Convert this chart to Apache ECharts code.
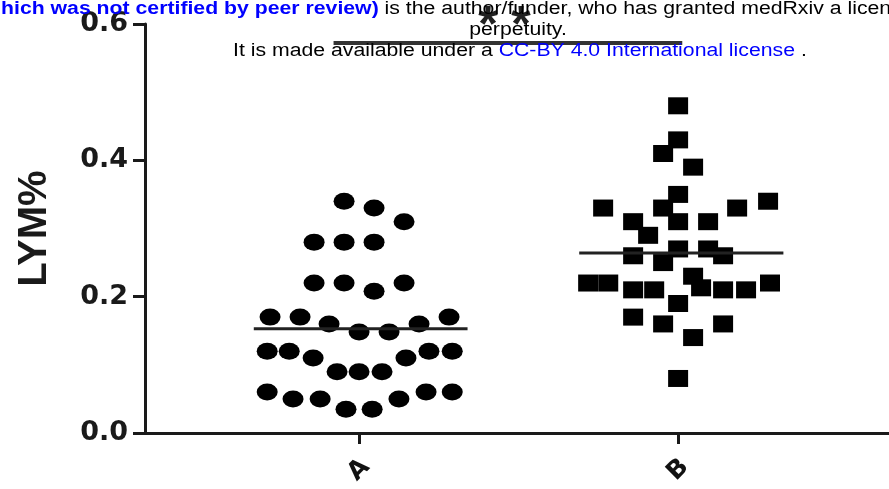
<!DOCTYPE html>
<html>
<head>
<meta charset="utf-8">
<script src="https://cdn.jsdelivr.net/npm/echarts@6/dist/echarts.min.js"></script>
<style>
html,body{margin:0;padding:0;background:#fff;}
#chart{width:889px;height:489px;}
</style>
</head>
<body>
<div id="chart"></div>
<script>
// ---- data ----
const categories = ['A', 'B'];
const yTicks = [0, 0.2, 0.4, 0.6];

// Group A (circles): LYM% values and horizontal scatter offsets (in category units)
const groupAValues = [
  0.34, 0.33, 0.31,
  0.28, 0.28, 0.28,
  0.22, 0.22, 0.208, 0.22,
  0.17, 0.17, 0.16, 0.148, 0.148, 0.16, 0.17,
  0.12, 0.12, 0.11, 0.09, 0.09, 0.09, 0.11, 0.12, 0.12,
  0.06, 0.05, 0.05, 0.035, 0.035, 0.05, 0.06, 0.06
];
const groupAOffsets = [
  -0.047, 0.047, 0.141,
  -0.141, -0.047, 0.047,
  -0.141, -0.047, 0.047, 0.141,
  -0.279, -0.185, -0.094, 0, 0.094, 0.188, 0.282,
  -0.288, -0.219, -0.144, -0.069, 0, 0.072, 0.147, 0.219, 0.292,
  -0.288, -0.207, -0.122, -0.041, 0.041, 0.125, 0.21, 0.292
];

// Group B (squares)
const groupBValues = [
  0.48,
  0.43, 0.41, 0.39,
  0.35, 0.33, 0.33, 0.33, 0.34,
  0.31, 0.31, 0.31,
  0.29,
  0.26, 0.25, 0.27, 0.27, 0.26,
  0.23,
  0.22, 0.22, 0.21, 0.21, 0.19, 0.213, 0.21, 0.21, 0.22,
  0.17, 0.16, 0.14, 0.16,
  0.08
];
const groupBOffsets = [
  0,
  0, -0.047, 0.047,
  0, -0.235, -0.047, 0.185, 0.282,
  -0.141, 0, 0.094,
  -0.094,
  -0.141, -0.047, 0, 0.094, 0.141,
  0.047,
  -0.282, -0.219, -0.141, -0.075, 0, 0.072, 0.141, 0.213, 0.288,
  -0.141, -0.047, 0.047, 0.141,
  0
];

// Median lines: value and extent (category units) for each group
const medians = [0.153, 0.264];
const medianSpans = [[-0.33, 0.34], [-0.31, 0.33]];

// Significance bracket
const sigValue = 0.572;
const sigSpan = [0.92, 2.013];
const sigLabel = '*';

// ---- chart ----
const chart = echarts.init(document.getElementById('chart'));
const catPos = categories.map((c, i) => i + 1);

const scatterA = groupAValues.map((v, i) => [catPos[0] + groupAOffsets[i], v]);
const scatterB = groupBValues.map((v, i) => [catPos[1] + groupBOffsets[i], v]);
const medianSeries = medians.map((m, i) => ({
  type: 'line',
  symbol: 'none',
  silent: true,
  z: 3,
  lineStyle: { color: '#222', width: 3 },
  data: [[catPos[i] + medianSpans[i][0], m], [catPos[i] + medianSpans[i][1], m]]
}));

const SCALE_X = 1.18;
const FAMILY = "'Liberation Sans', Arial, sans-serif";

const option = {
  backgroundColor: '#fff',
  animation: false,
  grid: { left: 145, right: 0, top: 24, bottom: 56, containLabel: false },
  xAxis: {
    type: 'value',
    min: 0.329,
    max: 2.661,
    splitLine: { show: false },
    axisLine: { show: true, onZero: false, lineStyle: { color: '#1a1a1a', width: 3 } },
    axisTick: { show: true, customValues: catPos, length: 11, lineStyle: { color: '#1a1a1a', width: 3 } },
    axisLabel: {
      show: true,
      customValues: catPos,
      formatter: v => categories[Math.round(v) - 1] || '',
      rotate: 45,
      align: 'center',
      verticalAlign: 'middle',
      margin: 37,
      color: '#111',
      fontFamily: "'DejaVu Sans', Verdana, sans-serif",
      fontWeight: 'bold',
      fontSize: 25
    }
  },
  yAxis: {
    type: 'value',
    min: yTicks[0],
    max: yTicks[yTicks.length - 1],
    interval: 0.2,
    splitLine: { show: false },
    axisLine: { show: true, lineStyle: { color: '#1a1a1a', width: 3 } },
    axisTick: { show: true, length: 12, lineStyle: { color: '#1a1a1a', width: 3 } },
    axisLabel: {
      formatter: v => v.toFixed(1),
      margin: 17,
      color: '#1a1a1a',
      fontFamily: "'DejaVu Sans', Verdana, sans-serif",
      fontWeight: 'bold',
      fontSize: 27
    },
    name: 'LYM%',
    nameLocation: 'middle',
    nameGap: 90,
    nameTextStyle: {
      color: '#1a1a1a',
      fontFamily: FAMILY,
      fontWeight: 'bold',
      fontSize: 40
    }
  },
  series: [
    {
      type: 'scatter',
      symbol: 'circle',
      symbolSize: [21, 17],
      itemStyle: { color: '#000', opacity: 1 },
      z: 2,
      data: scatterA
    },
    {
      type: 'scatter',
      symbol: 'rect',
      symbolSize: [20, 17],
      itemStyle: { color: '#000', opacity: 1 },
      z: 2,
      data: scatterB
    },
    ...medianSeries,
    {
      type: 'line',
      symbol: 'none',
      silent: true,
      z: 3,
      lineStyle: { color: '#333', width: 4 },
      data: [[sigSpan[0], sigValue], [sigSpan[1], sigValue]]
    }
  ],
  graphic: [
    {
      type: 'text', x: 488, y: 27, z: 5,
      style: { text: sigLabel, fontFamily: FAMILY, fontWeight: 'bold', fontSize: 50, fill: '#222', textAlign: 'center', textVerticalAlign: 'middle' }
    },
    {
      type: 'text', x: 521, y: 27, z: 5,
      style: { text: sigLabel, fontFamily: FAMILY, fontWeight: 'bold', fontSize: 50, fill: '#222', textAlign: 'center', textVerticalAlign: 'middle' }
    },
    {
      type: 'text', x: 1, y: 9, scaleX: SCALE_X, z: 10,
      style: {
        text: '{b|hich was not certified by peer review)} is the author/funder, who has granted medRxiv a license',
        fontFamily: FAMILY, fontSize: 18, fill: '#000', textAlign: 'left', textVerticalAlign: 'middle',
        rich: { b: { fill: '#0000ff', fontWeight: 'bold', fontFamily: FAMILY, fontSize: 18 } }
      }
    },
    {
      type: 'text', x: 518, y: 30, scaleX: SCALE_X, z: 10,
      style: { text: 'perpetuity.', fontFamily: FAMILY, fontSize: 18, fill: '#000', textAlign: 'center', textVerticalAlign: 'middle' }
    },
    {
      type: 'text', x: 233, y: 51, scaleX: SCALE_X, z: 10,
      style: {
        text: 'It is made available under a {u|CC-BY 4.0 International license} .',
        fontFamily: FAMILY, fontSize: 18, fill: '#000', textAlign: 'left', textVerticalAlign: 'middle',
        rich: { u: { fill: '#0000ff', fontFamily: FAMILY, fontSize: 18 } }
      }
    }
  ]
};
chart.setOption(option);
</script>
</body>
</html>
